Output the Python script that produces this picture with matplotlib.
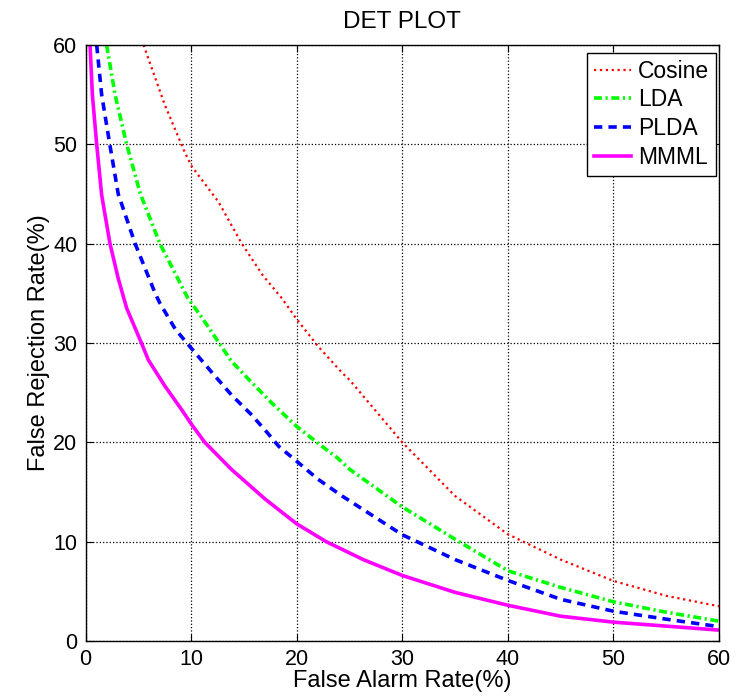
import matplotlib
matplotlib.use('Agg')
import matplotlib.pyplot as plt

plt.rcParams['font.family'] = ['Liberation Sans', 'DejaVu Sans']

# DET curves (false alarm %, false rejection %)
cosine_x = [5.5, 7.5, 9.4, 10.05, 12.6, 14.8, 16.8, 18.6, 20, 22, 24.3, 25, 30, 35, 40, 45, 50, 55, 60]
cosine_y = [60, 54, 49.2, 47.8, 44.2, 40, 36.8, 34.5, 32.4, 29.7, 27, 26.3, 20, 14.6, 10.75, 8.2, 6.05, 4.55, 3.5]

lda_x = [2.0, 2.8, 3.9, 5.2, 7.05, 9.7, 11, 12.4, 13.8, 15.4, 17.6, 20, 22.4, 23.9,
         25, 30, 35, 40, 45, 50, 55, 60]
lda_y = [60, 55, 50, 45, 40, 34.5, 32.6, 30.4, 28.2, 26.4, 24, 21.6, 19.6, 18.4,
         17.3, 13.5, 10.25, 7.07, 5.4, 3.95, 2.9, 2.0]

plda_x = [1.06, 1.53, 2.3, 3.1, 4.7, 6.6, 7.05, 8.5, 9.6, 10.4, 12, 13.8, 15.7, 17.2, 18.3,
          20, 22, 24.3, 30, 35, 40, 45, 50, 55, 60]
plda_y = [60, 55, 50, 45, 40, 35, 34, 31.4, 30, 29, 27, 24.8, 22.8, 21, 19.6,
          18.1, 16.3, 14.6, 10.7, 8.2, 6.1, 4.2, 3.0, 2.2, 1.45]

mmml_x = [0.43, 0.65, 1.06, 1.53, 2.32, 3.1, 3.9, 5.3, 5.95, 7.5, 9.1, 10.05, 11.3, 13.8, 17.0,
          20, 22.8, 26.3, 30, 35, 40, 45, 50, 55, 60]
mmml_y = [60, 55, 50, 44.9, 40, 36.5, 33.5, 30, 28.3, 25.7, 23.3, 21.8, 20, 17.3, 14.3,
          11.8, 10, 8.2, 6.6, 4.9, 3.6, 2.5, 1.9, 1.5, 1.1]

ticks = [0, 10, 20, 30, 40, 50, 60]

fig = plt.figure(figsize=(7.39, 6.97), dpi=100)
ax = fig.add_subplot(111)
fig.subplots_adjust(left=0.1157, right=0.973, top=0.9354, bottom=0.0803)

ax.plot(cosine_x, cosine_y, color='#ff0000', linestyle=':', linewidth=1.6, label='Cosine')
ax.plot(lda_x, lda_y, color='#00ff00', linestyle=(0, (2.2, 1.0, 0.6, 1.0)),
        linewidth=2.6, label='LDA')
ax.plot(plda_x, plda_y, color='#0000ff', linestyle=(0, (2.3, 1.7)), linewidth=2.6, label='PLDA')
ax.plot(mmml_x, mmml_y, color='#ff00ff', linestyle='-', linewidth=2.6, label='MMML')

ax.set_xlim(0, 60)
ax.set_ylim(0, 60)
ax.set_xticks(ticks)
ax.set_yticks(ticks)
ax.tick_params(direction='in', top=True, right=True, labelsize=15.5, length=5, pad=6)
ax.grid(True, color='black', linestyle=':', linewidth=0.9)
for s in ax.spines.values():
    s.set_linewidth(1.0)

ax.set_title('DET PLOT', fontsize=17.5, pad=12)
ax.set_xlabel('False Alarm Rate(%)', fontsize=17, labelpad=0)
ax.set_ylabel('False Rejection Rate(%)', fontsize=17, labelpad=2)

leg = ax.legend(loc='upper right', bbox_to_anchor=(0.995, 0.987), borderaxespad=0,
                fontsize=16.5, fancybox=False, framealpha=1, edgecolor='black',
                handlelength=1.6, handletextpad=0.3, labelspacing=0.25, borderpad=0.3)
leg.get_frame().set_linewidth(1.0)

fig.savefig('out.png', dpi=100)
